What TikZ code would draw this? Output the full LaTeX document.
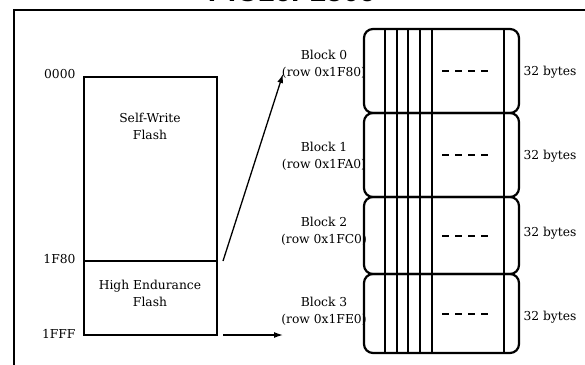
\documentclass[tikz,border=0pt]{standalone}
\usepackage{fontspec}
\setmainfont{DejaVu Serif}
\setsansfont{Liberation Sans}
\usetikzlibrary{arrows.meta}
\tikzset{
    blocco/.style={line width=2.2pt, rounded corners=9pt},
    freccia/.style={-{Latex[length=9pt,width=6pt]}, line width=1.3pt},
    testo/.style={align=center, font=\fontsize{12.3}{17}\selectfont}
}
\begin{document}
\begin{tikzpicture}[x=1pt,y=-1pt]
    \useasboundingbox (0,0) rectangle (585,364);
    % Titolo (tagliato in alto)
    \node[font=\sffamily\bfseries\fontsize{30}{30}\selectfont, anchor=base] (titolo) at (292,1.5) {PIC16F1509};
    % Cornice
    \draw[line width=2.5pt] (14,400) -- (14,10) -- (620,10);
    % Memoria di programma
    \draw[line width=1.4pt] (84,77) rectangle (217,335);
    \draw[line width=1.4pt] (84,261) coordinate (hefovest) -- (217,261) coordinate (hefnord);
    \coordinate (hefsud) at (217,335);
    \node[testo] (sw) at (150,126) {Self-Write\\Flash};
    \node[testo] (hef) at (150,293) {High Endurance\\Flash};
    \node[testo, anchor=east] (a0000) at (79,74) {0000};
    \node[testo, anchor=east] (a1F80) at (79,259) {1F80};
    \node[testo, anchor=east] (a1FFF) at (79,334) {1FFF};
    % Blocchi da 32 byte
    \foreach \i/\su/\giu/\riga/\ly/\by in {0/29/113/1F80/64/72, 1/113/197/1FA0/156/156,
        2/197/274/1FC0/231/233, 3/274/353/1FE0/311/317} {
        \draw[blocco] (364,\su) rectangle (519,\giu);
        \draw[line width=2pt, dash pattern=on 7pt off 6pt] (442,{(\su+\giu)/2}) -- (493,{(\su+\giu)/2});
        \node[testo] (blk\i) at (324,\ly) {Block \i\\(row 0x\riga)};
        \node[testo] (byte\i) at (550,\by) {32 bytes};
    }
    % Colonne dei byte
    \foreach \x in {385,397,408,420,432,504}
        \draw[line width=1.8pt] (\x,29) -- (\x,353);
    % Frecce
    \coordinate (punta0) at (283,74);
    \coordinate (punta3) at (283,335);
    \draw[freccia] ([xshift=6pt]hefnord) -- (punta0);
    \draw[freccia] ([xshift=6pt]hefsud) -- (punta3);
\end{tikzpicture}
\end{document}
